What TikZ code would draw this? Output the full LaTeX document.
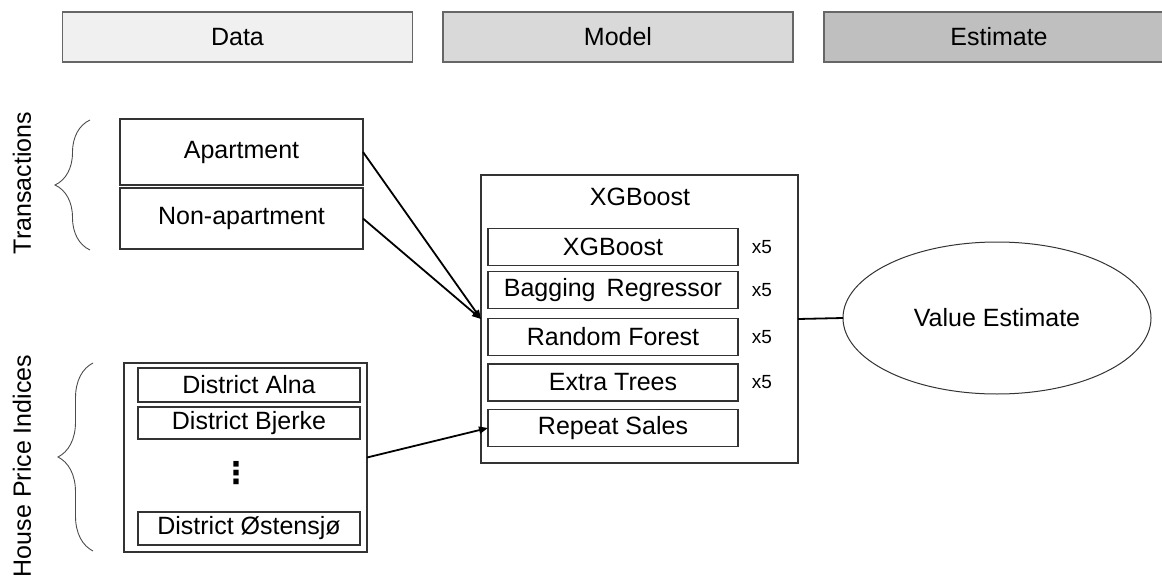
\documentclass[tikz,border=0pt]{standalone}
\usepackage{fontspec}
\setmainfont{Liberation Sans}
\newfontfamily\dejavufont{DejaVu Sans}
\usetikzlibrary{arrows.meta,shapes.geometric,decorations.pathreplacing}
\begin{document}
\begin{tikzpicture}[x=1pt,y=-1pt,
  every node/.style={font=\fontsize{25}{28}\selectfont, inner sep=0pt, outer sep=0pt},
  hdr/.style={draw=black!60, line width=1.2pt, minimum width=350pt, minimum height=50pt},
  box/.style={draw=black!80, line width=1.1pt},
  inbox/.style={draw=black!80, line width=1.1pt, minimum width=250pt, minimum height=37pt},
  dbox/.style={draw=black!80, line width=1.1pt, minimum width=222pt},
  times/.style={font=\fontsize{19}{22}\selectfont},
  conn/.style={line width=1.8pt, -{Triangle[length=9pt,width=7pt]}},
  bracestyle/.style={draw=black!70, line width=0.9pt, decorate, decoration={brace, amplitude=35pt}}
]
\useasboundingbox (0,0) rectangle (1162,583);
% header boxes
\node[hdr, fill=black!6] (data) at (237.5,37) {Data};
\node[hdr, fill=black!15] (model) at (618,37) {Model};
\node[hdr, fill=black!25] (est) at (999,37) {Estimate};
% side labels
\node[rotate=90] (tlab) at (22,183) {Transactions};
\node[rotate=90] (hlab) at (22,466) {House Price Indices};
% braces
\draw[bracestyle] (90,250) -- (90,120);
\draw[bracestyle] (93,551) -- (93,363);
% transactions
\node[box, minimum width=243pt, minimum height=66pt] (apt) at (241.5,152) {Apartment};
\node[box, minimum width=243pt, minimum height=61pt] (nonapt) at (241.5,218.5) {Non-apartment};
% districts
\node[box, minimum width=243pt, minimum height=189pt] (dist) at (245.5,457.5) {};
\node[dbox, minimum height=34pt] (alna) at (249,385) {District Alna};
\node[dbox, minimum height=32pt] (bjerke) at (249,423) {District Bjerke};
\node[font=\dejavufont\bfseries\fontsize{30}{30}\selectfont] (dots) at (236,473) {⋮};
\node[dbox, minimum height=33pt] (ost) at (249,528.5) {District Østensjø};
% model
\node[box, minimum width=317pt, minimum height=288pt] (xgb) at (639.5,319) {};
\node (xgbtitle) at (640,197) {XGBoost};
\node[inbox] (m1) at (613,247) {XGBoost};
\node[inbox] (m2) at (613,290) {Bagging\, Regressor};
\node[inbox] (m3) at (613,337) {Random Forest};
\node[inbox] (m4) at (613,382.5) {Extra Trees};
\node[inbox] (m5) at (613,428) {Repeat Sales};
\node[times] (t1) at (762,247) {x5};
\node[times] (t2) at (762,290) {x5};
\node[times] (t3) at (762,337) {x5};
\node[times] (t4) at (762,382.5) {x5};
% estimate
\node[ellipse, draw=black!80, line width=1pt, minimum width=308pt, minimum height=152pt] (val) at (997,318) {Value Estimate};
% connectors
\draw[conn] (apt.east) -- (xgb.west);
\draw[conn] (nonapt.east) -- (xgb.west);
\draw[conn] (dist.east) -- (m5.west);
\draw[line width=1.8pt] (xgb.east) -- (val.west);
\end{tikzpicture}
\end{document}
